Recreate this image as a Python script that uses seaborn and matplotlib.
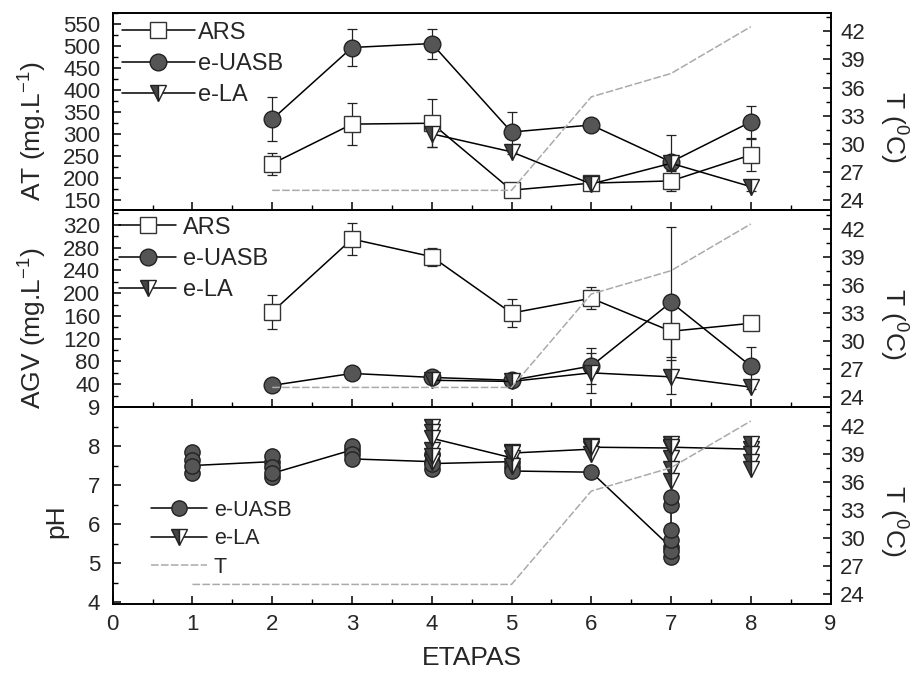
import seaborn as sns
import matplotlib.pyplot as plt
from matplotlib.ticker import MultipleLocator

# ---- AT panel (etapas 2-8) ----
at_x = [2, 3, 4, 5, 6, 7, 8]
at_ars = [232, 322, 324, 172, 188, 193, 252]
at_ars_err = [25, 48, 54, 10, 10, 22, 37]
at_uasb = [333, 496, 505, 304, 320, 236, 327]
at_uasb_err = [50, 42, 34, 45, 12, 62, 36]
at_la_x = [4, 5, 6, 7, 8]
at_la = [300, 259, 186, 233, 180]
at_la_err = [30, 6, 10, 15, 10]

# ---- AGV panel (etapas 2-8) ----
agv_ars = [167, 295, 264, 165, 191, 133, 147]
agv_ars_err = [30, 28, 16, 24, 19, 46, 8]
agv_uasb = [38, 59, 52, 47, 72, 184, 72]
agv_uasb_err = [4, 4, 4, 4, 32, 132, 33]
agv_la = [47, 45, 60, 53, 35]
agv_la_err = [3, 3, 35, 30, 3]

# ---- temperature ----
t_x = [2, 3, 4, 5, 6, 7, 8]
t_val = [25, 25, 25, 25, 35, 37.5, 42.5]
t_x_ph = [1, 2, 3, 4, 5, 6, 7, 8]
t_val_ph = [25, 25, 25, 25, 25, 35, 37.5, 42.5]

# ---- pH replicates (in the order they were connected) ----
ph_uasb_x = [1, 1, 1, 1, 2, 2, 2, 2, 2, 3, 3, 3, 3, 4, 4, 4, 4,
             5, 5, 5, 6, 7, 7, 7, 7, 7, 7, 7]
ph_uasb = [7.3, 7.85, 7.65, 7.5, 7.6, 7.75, 7.45, 7.2, 7.3, 7.9, 8.0, 7.8, 7.67,
           7.6, 7.8, 7.4, 7.55, 7.6, 7.45, 7.36, 7.33,
           5.4, 5.15, 5.3, 5.6, 5.85, 6.5, 6.7]
ph_la_x = [4, 4, 4, 4, 4, 4, 5, 5, 5, 5, 6, 6, 6, 6,
           7, 7, 7, 7, 7, 7, 8, 8, 8, 8, 8]
ph_la = [7.6, 7.9, 7.75, 8.5, 8.35, 8.2, 7.7, 7.5, 7.85, 7.82,
         7.92, 7.8, 8.0, 7.97, 7.95, 7.7, 7.4, 7.1, 8.05, 7.97,
         7.92, 8.05, 7.8, 7.6, 7.4]

sns.set_theme(style="ticks")
plt.rcParams["font.family"] = ["Liberation Sans", "DejaVu Sans"]
plt.rcParams["mathtext.fontset"] = "custom"
plt.rcParams["mathtext.rm"] = "Liberation Sans"
plt.rcParams["mathtext.it"] = "Liberation Sans:italic"
plt.rcParams["axes.edgecolor"] = "black"
plt.rcParams["axes.linewidth"] = 1.2

ars_kw = dict(marker="s", markersize=11, markerfacecolor="white",
              markeredgecolor="#333333", markeredgewidth=1.0,
              color="black", linewidth=1.1)
uasb_kw = dict(marker="o", markersize=12, markerfacecolor="#555555",
               markeredgecolor="#222222", markeredgewidth=1.0,
               color="black", linewidth=1.1)
la_kw = dict(marker="v", markersize=12, markerfacecolor="#444444",
             markerfacecoloralt="white", fillstyle="left",
             markeredgecolor="#222222", markeredgewidth=1.0,
             color="black", linewidth=1.1)
t_kw = dict(color="#aaaaaa", linewidth=1.1, linestyle=(0, (5, 1.5)))
err_kw = dict(fmt="none", ecolor="#222222", elinewidth=0.9,
              capsize=3.5, capthick=0.9, zorder=1.5)

fig = plt.figure(figsize=(9.11, 6.73), dpi=100)
left, width = 0.1237, 0.788
ax1 = fig.add_axes([left, 0.6880, width, 0.2931])
ax2 = fig.add_axes([left, 0.3952, width, 0.2928], sharex=ax1)
ax3 = fig.add_axes([left, 0.1025, width, 0.2927], sharex=ax1)

tick_fs = 16
label_fs = 19


def style_axes(ax, tw):
    ax.tick_params(axis="both", which="major", direction="in", length=6,
                   width=1.1, labelsize=tick_fs, top=False, color="black")
    ax.tick_params(axis="both", which="minor", direction="in", length=3.5,
                   width=1.0, top=False, color="black")
    ax.tick_params(axis="y", pad=9)
    ax.tick_params(axis="x", pad=7)
    tw.tick_params(axis="y", which="major", direction="in", length=6,
                   width=1.1, labelsize=tick_fs, pad=7, color="black")
    tw.tick_params(axis="y", which="minor", direction="in", length=3.5,
                   width=1.0, color="black")
    tw.set_ylim(22.9, 44.0)
    tw.yaxis.set_minor_locator(MultipleLocator(1.5))
    tw.set_yticks([24, 27, 30, 33, 36, 39, 42])
    tw.set_ylabel("T ($^{0}$C)", fontsize=label_fs, rotation=270,
                  labelpad=32, y=0.42)


# ---- top: AT ----
tw1 = ax1.twinx()
ax1.errorbar(at_x, at_ars, yerr=at_ars_err, **err_kw)
ax1.errorbar(at_x, at_uasb, yerr=at_uasb_err, **err_kw)
ax1.errorbar(at_la_x, at_la, yerr=at_la_err, **err_kw)
sns.lineplot(x=at_x, y=at_ars, ax=ax1, estimator=None, sort=False, label="ARS", **ars_kw)
sns.lineplot(x=at_x, y=at_uasb, ax=ax1, estimator=None, sort=False, label="e-UASB", **uasb_kw)
sns.lineplot(x=at_la_x, y=at_la, ax=ax1, estimator=None, sort=False, label="e-LA", **la_kw)
sns.lineplot(x=t_x, y=t_val, ax=tw1, estimator=None, sort=False, **t_kw)
ax1.set_ylim(127, 575)
ax1.set_yticks(list(range(150, 551, 50)))
ax1.yaxis.set_minor_locator(MultipleLocator(25))
ax1.set_ylabel("AT (mg.L$^{-1}$)", fontsize=label_fs, labelpad=10, y=0.4)
style_axes(ax1, tw1)
ax1.tick_params(labelbottom=False)
ax1.legend(loc="upper left", bbox_to_anchor=(0, 1), frameon=False,
           fontsize=17, handlelength=3.1, handletextpad=0.15,
           borderaxespad=0, borderpad=0.38, labelspacing=0.39)

# ---- middle: AGV ----
tw2 = ax2.twinx()
ax2.errorbar(at_x, agv_ars, yerr=agv_ars_err, **err_kw)
ax2.errorbar(at_x, agv_uasb, yerr=agv_uasb_err, **err_kw)
ax2.errorbar(at_la_x, agv_la, yerr=agv_la_err, **err_kw)
sns.lineplot(x=at_x, y=agv_ars, ax=ax2, estimator=None, sort=False, label="ARS", **ars_kw)
sns.lineplot(x=at_x, y=agv_uasb, ax=ax2, estimator=None, sort=False, label="e-UASB", **uasb_kw)
sns.lineplot(x=at_la_x, y=agv_la, ax=ax2, estimator=None, sort=False, label="e-LA", **la_kw)
sns.lineplot(x=t_x, y=t_val, ax=tw2, estimator=None, sort=False, **t_kw)
ax2.set_ylim(0, 346)
ax2.set_yticks(list(range(40, 321, 40)))
ax2.yaxis.set_minor_locator(MultipleLocator(20))
ax2.set_ylabel("AGV (mg.L$^{-1}$)", fontsize=label_fs, labelpad=10, y=0.4)
style_axes(ax2, tw2)
ax2.tick_params(labelbottom=False)
ax2.legend(loc="upper left", bbox_to_anchor=(0, 1), frameon=False,
           fontsize=17, handlelength=2.4, handletextpad=0.3,
           borderaxespad=0, borderpad=0.28, labelspacing=0.4)

# ---- bottom: pH ----
tw3 = ax3.twinx()
sns.lineplot(x=ph_uasb_x, y=ph_uasb, ax=ax3, estimator=None, sort=False,
             **{**uasb_kw, "markersize": 11})
sns.lineplot(x=ph_la_x, y=ph_la, ax=ax3, estimator=None, sort=False,
             **{**la_kw, "markersize": 11})
sns.lineplot(x=t_x_ph, y=t_val_ph, ax=tw3, estimator=None, sort=False, **t_kw)
h_uasb, h_la = ax3.lines[0], ax3.lines[1]
h_t = tw3.lines[0]
ax3.set_ylim(3.95, 9.0)
ax3.set_yticks([4, 5, 6, 7, 8, 9])
ax3.yaxis.set_minor_locator(MultipleLocator(0.5))
ax3.set_ylabel("pH", fontsize=label_fs, labelpad=14, y=0.42)
style_axes(ax3, tw3)
ax3.set_xlim(0, 9)
ax3.set_xticks(list(range(0, 10)))
ax3.xaxis.set_minor_locator(MultipleLocator(0.5))
ax3.set_xlabel("ETAPAS", fontsize=label_fs, labelpad=8)
ax3.legend([h_uasb, h_la, h_t], ["e-UASB", "e-LA", "T"], loc="upper left",
           bbox_to_anchor=(0.054, 0.53), frameon=False, fontsize=15.5,
           handlelength=2.6, handletextpad=0.3, borderaxespad=0,
           borderpad=0, labelspacing=0.35)

fig.savefig("out.png", dpi=100)
